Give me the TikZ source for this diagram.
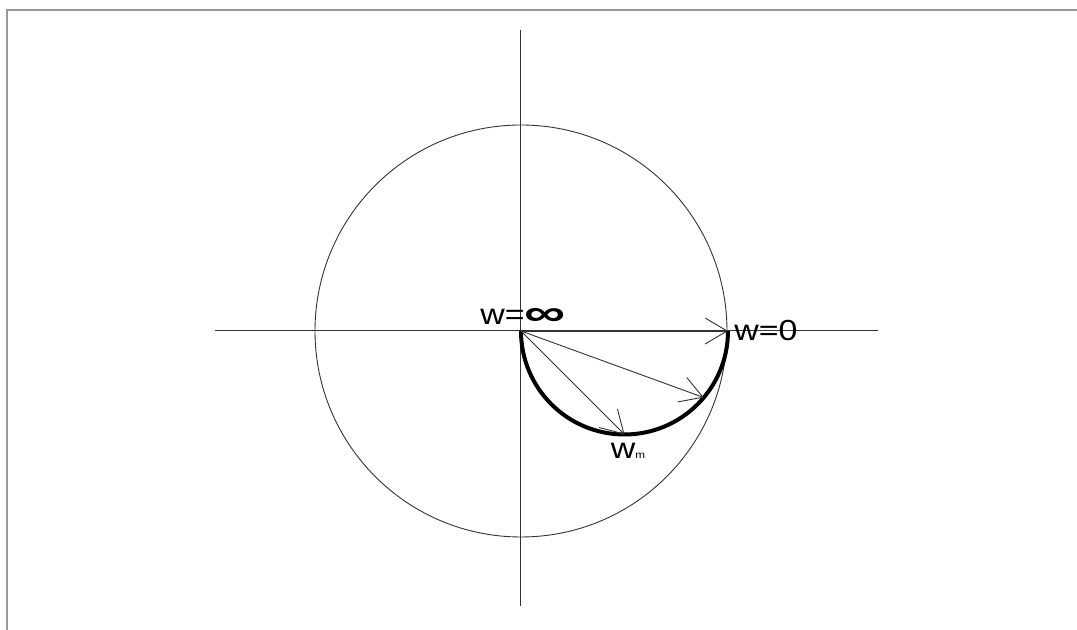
\documentclass[tikz,border=0pt]{standalone}
\usepackage{fontspec}
\setmainfont[FakeStretch=1.17]{Liberation Sans}
\usetikzlibrary{arrows.meta, positioning, calc}

\begin{document}
\begin{tikzpicture}[
		x=0.5pt, y=0.5pt,
		every node/.style={font=\fontsize{14.5}{16}\selectfont, inner sep=0pt},
		axis/.style={line width=0.5pt, draw=black!80},
		circ/.style={line width=0.45pt, draw=black!80},
		locus/.style={line width=2pt, draw=black},
		vec/.style={
			-{Straight Barb[length=11pt,width=13pt]},
			line width=0.45pt, draw=black!80
		},
		frameline/.style={line width=1pt, draw=black!40}
		]
		
		\useasboundingbox (-521,-299) rectangle (556,331);
		
		% Frame
		\draw[frameline] (-514,-299) |- (556,321);
		
		% Points
		\coordinate (O)  at (0,0);
		\coordinate (C)  at (103.5,0);
		\coordinate (P0) at (207,0);
		\coordinate (P1) at ($(C)+(-40:103.5)$);
		\coordinate (Pm) at ($(C)+(-90:103.5)$);
		
		% Axes
		\coordinate (xl) at (-306,0);
		\coordinate (xr) at (357,0);
		\coordinate (yt) at (0,301);
		\coordinate (yb) at (0,-275);
		\draw[axis] (xl) -- (xr);
		\draw[axis] (yt) -- (yb);
		
		% Circles
		\draw[circ] (O) circle[radius=206];
		\draw[locus] (O) arc[start angle=180, end angle=360, radius=103.5];
		
		% Vectors
		\draw[vec] (O) -- (P0);
		\draw[vec] (O) -- (P1);
		\draw[vec] (O) -- (Pm);
		
		% Labels
		\node[above=3pt of O, xshift=1pt] (winf) {w=\raisebox{-0.5pt}[0pt][0pt]{\scalebox{1.7}[1.25]{\bfseries ∞}}};
		\node[right=3pt of P0] (wzero) {w=0};
		\node[below=4pt of Pm, xshift=1.75pt] (wm) {w{\fontsize{5}{6}\selectfont m}};
		
\end{tikzpicture}
\end{document}
